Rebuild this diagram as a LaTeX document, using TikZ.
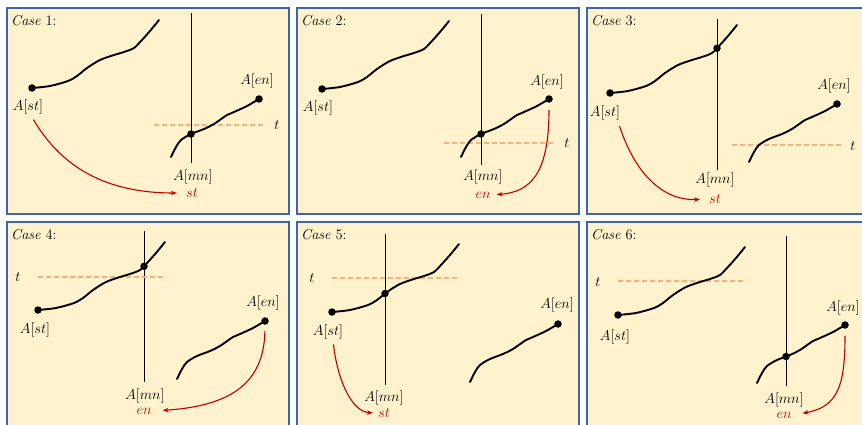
\documentclass[tikz,border=0pt]{standalone}
\usetikzlibrary{arrows.meta,intersections}

\definecolor{panelfill}{RGB}{255,242,204}
\definecolor{panelline}{RGB}{66,100,168}
\definecolor{tcolor}{RGB}{244,177,131}
\definecolor{darkred}{RGB}{192,0,0}

\tikzset{
  panel/.style={draw=panelline, fill=panelfill, line width=1.3pt},
  curve/.style={line width=1.9pt, line join=round, line cap=round},
  mnline/.style={line width=0.9pt},
  tline/.style={draw=tcolor, dash pattern=on 5pt off 3pt, line width=1.3pt},
  dot/.style={circle, fill, inner sep=0pt, minimum size=7.5pt},
  lab/.style={font=\fontsize{14.4}{17}\selectfont, inner sep=1pt},
  redlab/.style={lab, text=darkred},
  move/.style={darkred, line width=1.1pt, -{Stealth[length=6pt,width=4.5pt]}}
}

% les deux morceaux de courbe
\newcommand{\uppts}{plot[smooth] coordinates {(0,0) (18,-2) (36,-7) (45,-12) (55,-20) (68,-28) (82,-33) (92,-36) (102,-40) (109,-47) (118,-57) (127,-68)}}
\newcommand{\lowpts}{plot[smooth] coordinates {(0,0) (5,-10) (10,-17) (20,-23) (33,-28) (43,-33) (56,-42) (63,-45) (76,-51) (88,-58)}}

\begin{document}
\begin{tikzpicture}[x=1pt,y=-1pt]
\useasboundingbox (0,0) rectangle (862,425);
\clip (0,0) rectangle (862,425);

% Case 1
\begin{scope}
\draw[panel] (7,8) rectangle (289,214);
\node[lab, anchor=west] (case1) at (10,21) {\textit{Case} 1:};
\draw[mnline, name path=v1] (191,13) -- (191,163);
\draw[tline] (154,125) -- (265,125);
\draw[curve, shift={(32,88)}] \uppts;
\draw[curve, shift={(171,157)}, name path=lo1] \lowpts;
\path[name intersections={of=v1 and lo1, by=m1}];
\node[dot] (mn1) at (m1) {};
\node[dot] (st1) at (32,88) {};
\node[dot] (en1) at (259,99) {};
\node[lab] (ast1) at (28,107) {$A[st]$};
\node[lab] (aen1) at (257,81) {$A[en]$};
\node[lab] (amn1) at (193,177) {$A[mn]$};
\node[lab] (t1) at (277,125) {$t$};
\node[redlab] (r1) at (192,193) {$st$};
\draw[move, shorten <=5pt, shorten >=8pt] ([xshift=3]ast1.south)
  .. controls +(30,51) and +(-80,0) .. (r1.west);
\end{scope}

% Case 2
\begin{scope}[shift={(290,0)}]
\draw[panel] (7,8) rectangle (289,214);
\node[lab, anchor=west] (case2) at (10,21) {\textit{Case} 2:};
\draw[mnline, name path=v2] (191,14) -- (191,165);
\draw[tline] (154,143) -- (265,143);
\draw[curve, shift={(32,89)}] \uppts;
\draw[curve, shift={(171,157)}, name path=lo2] \lowpts;
\path[name intersections={of=v2 and lo2, by=m2}];
\node[dot] (mn2) at (m2) {};
\node[dot] (st2) at (32,89) {};
\node[dot] (en2) at (259,99) {};
\node[lab] (ast2) at (28,108) {$A[st]$};
\node[lab] (aen2) at (257,82) {$A[en]$};
\node[lab] (amn2) at (193,177) {$A[mn]$};
\node[lab] (t2) at (277,143) {$t$};
\node[redlab] (r2) at (193,195) {$en$};
\draw[move, shorten <=7pt, shorten >=5pt] (en2.south)
  .. controls +(0,72) and +(38,-3) .. (r2.east);
\end{scope}

% Case 3
\begin{scope}[shift={(580,0)}]
\draw[panel] (7,8) rectangle (289,214);
\node[lab, anchor=west] (case3) at (10,21) {\textit{Case} 3:};
\draw[mnline, name path=v3] (137,19) -- (137,170);
\draw[tline] (152,145) -- (263,145);
\draw[curve, shift={(30,93)}, name path=up3] \uppts;
\draw[curve, shift={(169,162)}] \lowpts;
\path[name intersections={of=v3 and up3, by=m3}];
\node[dot] (mn3) at (m3) {};
\node[dot] (st3) at (30,93) {};
\node[dot] (en3) at (257,104) {};
\node[lab] (ast3) at (25,113) {$A[st]$};
\node[lab] (aen3) at (254,86) {$A[en]$};
\node[lab] (amn3) at (135,180) {$A[mn]$};
\node[lab] (t3) at (273,146) {$t$};
\node[redlab] (r3) at (135,199) {$st$};
\draw[move, shorten <=5pt, shorten >=8pt] ([xshift=13]ast3.south)
  .. controls +(18,55) and +(-43,2) .. (r3.west);
\end{scope}

% Case 4
\begin{scope}[shift={(0,214)}]
\draw[panel] (7,8) rectangle (289,214);
\node[lab, anchor=west] (case4) at (10,21) {\textit{Case} 4:};
\draw[mnline, name path=v4] (144,17) -- (144,168);
\draw[tline] (38,63) -- (166,63);
\draw[curve, shift={(38,96)}, name path=up4] \uppts;
\draw[curve, shift={(177,165)}] \lowpts;
\path[name intersections={of=v4 and up4, by=m4}];
\node[dot] (mn4) at (m4) {};
\node[dot] (st4) at (38,96) {};
\node[dot] (en4) at (265,107) {};
\node[lab] (ast4) at (35,116) {$A[st]$};
\node[lab] (aen4) at (263,89) {$A[en]$};
\node[lab] (amn4) at (145,182) {$A[mn]$};
\node[lab] (t4) at (18,63) {$t$};
\node[redlab] (r4) at (144,197) {$en$};
\draw[move, shorten <=6pt, shorten >=10pt] (en4.south)
  .. controls +(-1,59) and +(77,-5) .. (r4.east);
\end{scope}

% Case 5
\begin{scope}[shift={(290,214)}]
\draw[panel] (7,8) rectangle (289,214);
\node[lab, anchor=west] (case5) at (10,21) {\textit{Case} 5:};
\draw[mnline, name path=v5] (95,20) -- (95,171);
\draw[tline] (42,64) -- (170,64);
\draw[curve, shift={(42,98)}, name path=up5] \uppts;
\draw[curve, shift={(180,168)}] \lowpts;
\path[name intersections={of=v5 and up5, by=m5}];
\node[dot] (mn5) at (m5) {};
\node[dot] (st5) at (42,98) {};
\node[dot] (en5) at (268,110) {};
\node[lab] (ast5) at (38,118) {$A[st]$};
\node[lab] (aen5) at (267,91) {$A[en]$};
\node[lab] (amn5) at (94,184) {$A[mn]$};
\node[lab] (t5) at (22,64) {$t$};
\node[redlab] (r5) at (94,199) {$st$};
\draw[move, shorten <=4pt, shorten >=4pt] ([xshift=5]ast5.south)
  .. controls +(5,43) and +(-24,-1) .. (r5.west);
\end{scope}

% Case 6
\begin{scope}[shift={(580,214)}]
\draw[panel] (7,8) rectangle (289,214);
\node[lab, anchor=west] (case6) at (10,21) {\textit{Case} 6:};
\draw[mnline, name path=v6] (206,22) -- (206,172);
\draw[tline] (38,67) -- (166,67);
\draw[curve, shift={(38,101)}] \uppts;
\draw[curve, shift={(177,169)}, name path=lo6] \lowpts;
\path[name intersections={of=v6 and lo6, by=m6}];
\node[dot] (mn6) at (m6) {};
\node[dot] (st6) at (38,101) {};
\node[dot] (en6) at (265,111) {};
\node[lab] (ast6) at (35,123) {$A[st]$};
\node[lab] (aen6) at (263,94) {$A[en]$};
\node[lab] (amn6) at (204,186) {$A[mn]$};
\node[lab] (t6) at (18,68) {$t$};
\node[redlab] (r6) at (204,201) {$en$};
\draw[move, shorten <=7pt, shorten >=10pt] (en6.south)
  .. controls +(0,57) and +(45,-8) .. (r6.east);
\end{scope}

\end{tikzpicture}
\end{document}
